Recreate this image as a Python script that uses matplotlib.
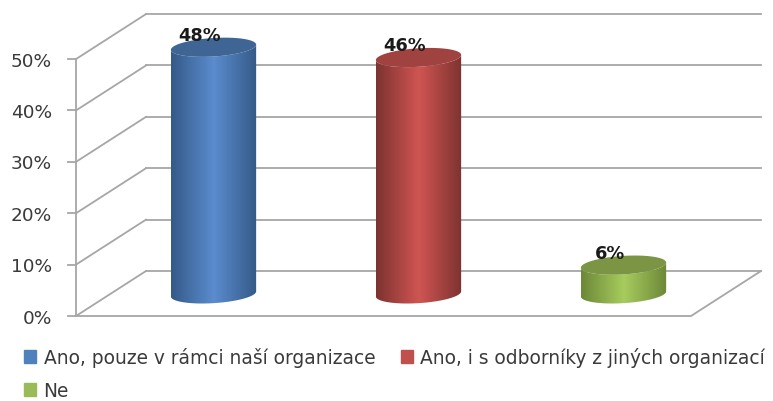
import matplotlib
matplotlib.use('Agg')
import matplotlib.pyplot as plt
import numpy as np
from matplotlib.colors import LinearSegmentedColormap
from matplotlib.patches import Patch, PathPatch, Polygon
from matplotlib.path import Path

labels = ['Ano, pouze v rámci naší organizace', 'Ano, i s odborníky z jiných organizací', 'Ne']
values = [48, 46, 5.6]
value_labels = ['48%', '46%', '6%']
ticks = [0, 10, 20, 30, 40, 50]

legend_colors = ['#4f81bd', '#c0504d', '#9bbb59']
edge_colors = ['#355a88', '#7d3331', '#6c8838']
mid_colors = ['#5b8ccf', '#d05552', '#a8cc5e']
top_colors = ['#3f6595', '#a04240', '#7b9545']

W, H = 773, 402
grid = '#a6a6a6'
txt = '#3a3a3a'

fig = plt.figure(figsize=(W / 100, H / 100), dpi=100)
# axes reach above 50% so the tops of the cylinders and the back wall are not cut
ax = fig.add_axes([76 / W, 1 - 317 / H, (691 - 76) / W, (317 - 5.6) / H])
ax.set_xlim(0, 3)
ax.set_ylim(0, 60.6)
ax.axis('off')

# depth of the fake 3d box, in data units
dx = 70 / 205
dy = 45 / 5.14

for t in ticks:
    ax.plot([0, dx], [t, t + dy], color=grid, lw=1.3, clip_on=False, zorder=1)
    ax.plot([dx, 3 + dx], [t + dy, t + dy], color=grid, lw=1.3, clip_on=False, zorder=1)
    ax.plot([-8 / 205, 0], [t, t], color=grid, lw=1.3, clip_on=False, zorder=1)
    ax.text(-24 / 205, t - 0.3, '%d%%' % t, ha='right', va='center', fontsize=13.3, color=txt, clip_on=False)
ax.plot([0, 0], [0, 50], color=grid, lw=1.3, clip_on=False, zorder=1)
ax.plot([0, 3, 3 + dx], [0, 0, dy], color=grid, lw=1.3, clip_on=False, zorder=1)

# cylinders, ellipses lean a little (left side lower)
half_w = 0.208
half_h = 1.8
tilt = 0.5
base = 4.3
u = np.linspace(0, np.pi, 60)
for i, v in enumerate(values):
    cx = i + 0.5 + dx / 2
    top = base + v
    cu = np.cos(u)
    su = np.sin(u)
    bottom_arc = np.column_stack([cx - half_w * cu, base - half_h * su + tilt * -cu])
    top_arc = np.column_stack([cx + half_w * cu, top - half_h * su + tilt * cu])
    top_back = np.column_stack([cx - half_w * cu, top + half_h * su - tilt * cu])
    pts = np.vstack([bottom_arc, top_arc, bottom_arc[:1]])
    side = PathPatch(Path(pts), fc='none', ec='none')
    ax.add_patch(side)
    cmap = LinearSegmentedColormap.from_list('c', [edge_colors[i], mid_colors[i], edge_colors[i]])
    im = ax.imshow(np.linspace(0, 1, 128).reshape(1, -1), cmap=cmap, aspect='auto', zorder=3,
                   extent=[cx - half_w, cx + half_w, base - 3, top + 3])
    im.set_clip_path(side)
    ax.add_patch(Polygon(np.vstack([top_arc, top_back]), fc=top_colors[i], ec='none', zorder=4))
    ax.text(cx - 14 / 205, top + 2.4, value_labels[i], ha='center', va='center', fontsize=12.8,
            fontweight='bold', color='#1a1a1a', zorder=5, clip_on=False)
ax.set_xlim(0, 3)
ax.set_ylim(0, 60.6)

# legend fills by column, so Ne goes second to land under the first entry
order = [0, 2, 1]
handles = [Patch(color=legend_colors[i]) for i in order]
fig.legend(handles, [labels[i] for i in order], ncol=2, frameon=False, loc='upper left',
           bbox_to_anchor=(24 / W, 1 - 348 / H), borderpad=0, borderaxespad=0, fontsize=13.4, labelcolor=txt,
           handlelength=0.65, handleheight=0.65, handletextpad=0.4, columnspacing=1.38, labelspacing=0.75)

fig.savefig('out.png', dpi=100)
